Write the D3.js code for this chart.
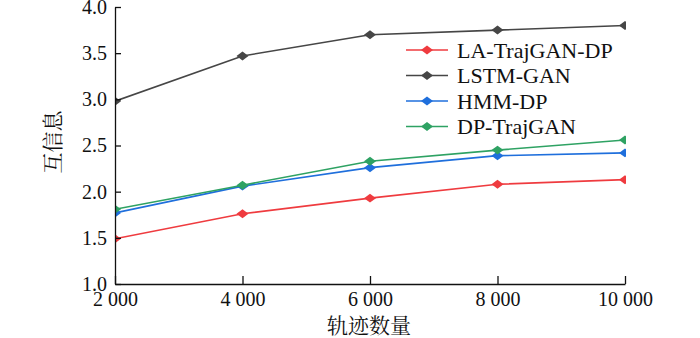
<html>
<head>
<meta charset="utf-8">
<style type="text/css">
  body { margin: 0; background: #fff; }
  svg text { font-family: "Liberation Serif", "Times New Roman", serif; fill: #111; }
  .cjk { font-family: "Noto Serif CJK SC", "Noto Sans CJK SC", sans-serif; }
  .axis path, .axis line { stroke: #111; stroke-width: 1.3; }
</style>
</head>
<body>
<svg id="chart" width="700" height="338"></svg>
<script src="https://cdn.jsdelivr.net/npm/d3@7"></script>
<script>
  // DATA
  var sizes = [2000, 4000, 6000, 8000, 10000];
  var sizeLabels = ["2 000", "4 000", "6 000", "8 000", "10 000"];
  var yTicks = [1.0, 1.5, 2.0, 2.5, 3.0, 3.5, 4.0];
  var seriesNames = ["LA-TrajGAN-DP", "LSTM-GAN", "HMM-DP", "DP-TrajGAN"];
  var laTrajGanDp = [1.49, 1.76, 1.93, 2.08, 2.13];
  var lstmGan = [2.98, 3.47, 3.70, 3.75, 3.80];
  var hmmDp = [1.77, 2.06, 2.26, 2.39, 2.42];
  var dpTrajGan = [1.81, 2.07, 2.33, 2.45, 2.56];
  var colours = ["#ef3b3f", "#464646", "#1f6fdc", "#2ea263"];

  var allSeries = [laTrajGanDp, lstmGan, hmmDp, dpTrajGan];

  var svg = d3.select("#chart");
  var plotLeft = 115, plotRight = 625, plotTop = 7, plotBottom = 284;

  var x = d3.scaleLinear().domain([2000, 10000]).range([plotLeft, plotRight]);
  var y = d3.scaleLinear().domain([1, 4]).range([plotBottom, plotTop]);

  // axes with inward ticks
  var xAxis = d3.axisBottom(x)
    .tickValues(sizes)
    .tickSize(-8)
    .tickSizeOuter(0)
    .tickPadding(8)
    .tickFormat(function(d, i) { return sizeLabels[i]; });

  var yAxis = d3.axisLeft(y)
    .tickValues(yTicks)
    .tickSize(-6)
    .tickSizeOuter(0)
    .tickPadding(8)
    .tickFormat(d3.format(".1f"));

  // markers are cut off at the left and right plot edges
  svg.append("clipPath")
    .attr("id", "plot-clip")
    .append("rect")
    .attr("x", plotLeft)
    .attr("y", 0)
    .attr("width", plotRight - plotLeft + 1)
    .attr("height", 338);

  // lines and diamond markers (a flattened diamond)
  var flatDiamond = {
    draw: function(context, size) {
      var w = Math.sqrt(size) * 0.75, h = Math.sqrt(size) * 0.56;
      context.moveTo(-w, 0);
      context.lineTo(0, -h);
      context.lineTo(w, 0);
      context.lineTo(0, h);
      context.closePath();
    }
  };
  var diamond = d3.symbol().type(flatDiamond).size(64);

  var line = d3.line()
    .x(function(d, i) { return x(sizes[i]); })
    .y(function(d) { return y(d); });

  var plot = svg.append("g").attr("clip-path", "url(#plot-clip)");

  allSeries.forEach(function(vals, k) {
    var g = plot.append("g");
    g.append("path")
      .attr("d", line(vals))
      .attr("fill", "none")
      .attr("stroke", colours[k])
      .attr("stroke-width", 1.6);
    g.selectAll("path.pt")
      .data(vals)
      .enter()
      .append("path")
      .attr("class", "pt")
      .attr("d", diamond)
      .attr("fill", colours[k])
      .attr("transform", function(d, i) {
        return "translate(" + x(sizes[i]) + "," + y(d) + ")";
      });
  });

  var gx = svg.append("g")
    .attr("class", "axis")
    .attr("transform", "translate(0," + plotBottom + ")")
    .call(xAxis);
  gx.selectAll("text").attr("font-size", 20);

  var gy = svg.append("g")
    .attr("class", "axis")
    .attr("transform", "translate(" + plotLeft + ",0)")
    .call(yAxis);
  gy.selectAll("text").attr("font-size", 20);

  // axis titles
  svg.append("text")
    .attr("class", "cjk")
    .attr("x", 369)
    .attr("y", 333)
    .attr("text-anchor", "middle")
    .attr("font-size", 21)
    .text("轨迹数量");

  svg.append("text")
    .attr("class", "cjk")
    .attr("transform", "translate(52,142) rotate(-90)")
    .attr("text-anchor", "middle")
    .attr("dy", "0.36em")
    .attr("font-size", 21)
    .text("互信息");

  // legend
  var legend = svg.append("g").attr("transform", "translate(406,50)");
  var item = legend.selectAll("g")
    .data(seriesNames)
    .enter()
    .append("g")
    .attr("transform", function(d, i) { return "translate(0," + (i * 25.5) + ")"; });

  item.append("line")
    .attr("x1", 0).attr("x2", 42)
    .attr("stroke", function(d, i) { return colours[i]; })
    .attr("stroke-width", 1.6);
  item.append("path")
    .attr("d", diamond)
    .attr("transform", "translate(21,0)")
    .attr("fill", function(d, i) { return colours[i]; });
  item.append("text")
    .attr("x", 51)
    .attr("dy", "0.35em")
    .attr("font-size", 22)
    .text(function(d) { return d; });
</script>
</body>
</html>
